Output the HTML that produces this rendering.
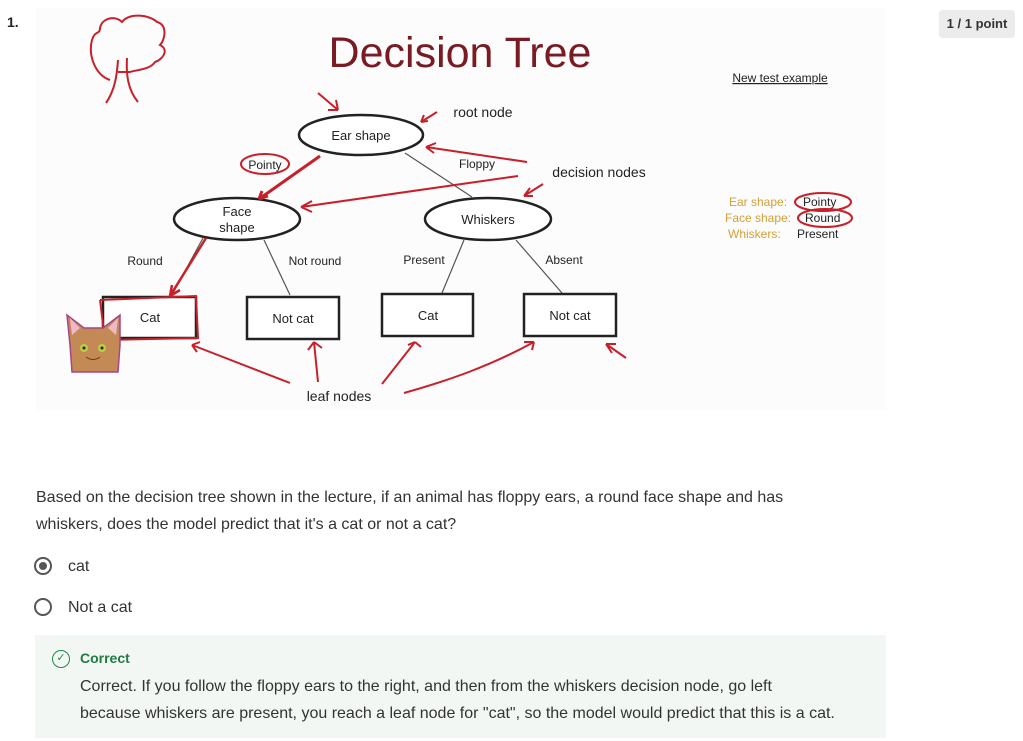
<!DOCTYPE html>
<html><head><meta charset="utf-8"><style>
body{margin:0;width:1023px;height:741px;background:#fff;font-family:"Liberation Sans",sans-serif;position:relative;overflow:hidden;color:#333}
.a{position:absolute}
</style></head><body>
<div class="a" style="left:7px;top:14px;font-weight:bold;font-size:14px;color:#222">1.</div>
<div class="a" style="left:939px;top:10px;width:76px;height:28px;background:#ececec;border-radius:4px;font-size:13px;font-weight:bold;line-height:28px;text-align:center;color:#333">1 / 1 point</div>
<svg class="a" style="left:0;top:0" width="1023" height="420" viewBox="0 0 1023 420" font-family="Liberation Sans, DejaVu Sans, sans-serif">
<rect x="36" y="8" width="850" height="402" fill="#fcfcfc"/>
<text x="460" y="67" font-size="43" fill="#7a1a22" text-anchor="middle">Decision Tree</text>
<g fill="none" stroke="#c8202a" stroke-width="2">
<path d="M110 80 C95 75 88 55 92 40 C95 30 100 35 100 28 C102 18 115 15 122 22 C130 12 150 15 157 22 C168 25 165 40 160 45 C170 50 162 60 155 62 C150 70 135 70 130 72 L118 72"/>
<path d="M118 60 C117 75 115 90 106 103"/><path d="M127 58 C126 75 128 90 138 102"/>
</g>
<g stroke="#555" stroke-width="1.2" fill="none">
<line x1="405" y1="153" x2="472" y2="197"/>
<line x1="203" y1="238" x2="172" y2="295"/>
<line x1="264" y1="240" x2="290" y2="295"/>
<line x1="464" y1="240" x2="442" y2="293"/>
<line x1="516" y1="240" x2="562" y2="293"/>
</g>
<g fill="#fff" stroke="#222" stroke-width="2.5">
<ellipse cx="361" cy="135" rx="62" ry="20"/>
<ellipse cx="237" cy="219" rx="63" ry="21"/>
<ellipse cx="488" cy="219" rx="63" ry="21"/>
<rect x="103" y="297" width="93" height="41"/>
<rect x="247" y="297" width="92" height="42"/>
<rect x="382" y="294" width="91" height="42"/>
<rect x="524" y="294" width="92" height="42"/>
</g>
<g font-size="13" fill="#222" text-anchor="middle">
<text x="361" y="140">Ear shape</text>
<text x="237" y="216">Face</text><text x="237" y="232">shape</text>
<text x="488" y="224">Whiskers</text>
<text x="150" y="322">Cat</text>
<text x="293" y="323">Not cat</text>
<text x="428" y="320">Cat</text>
<text x="570" y="320">Not cat</text>
<text x="145" y="265" font-size="12">Round</text>
<text x="315" y="265" font-size="12">Not round</text>
<text x="424" y="264" font-size="12">Present</text>
<text x="564" y="264" font-size="12">Absent</text>
<text x="265" y="169" font-size="12">Pointy</text>
<text x="477" y="168" font-size="12">Floppy</text>
<text x="483" y="117" font-size="14">root node</text>
<text x="599" y="177" font-size="14">decision nodes</text>
<text x="339" y="401" font-size="14">leaf nodes</text>
</g>
<g fill="none" stroke="#c8202a" stroke-width="2">
<ellipse cx="265" cy="164" rx="24" ry="10"/>
<path d="M318 93 L338 110 M338 110 L328 110 M338 110 L336 100"/>
<path d="M437 112 L421 122 M421 122 L428 121 M421 122 L424 115"/>
<path d="M527 162 L426 147 M426 147 L436 143 M426 147 L434 153"/>
<path d="M518 176 L301 207 M301 207 L312 201 M301 207 L312 212"/>
<path d="M543 184 L524 196 M524 196 L530 188 M524 196 L533 196"/>
<path d="M320 156 L259 199 M259 199 L268 196 M259 199 L262 191" stroke-width="3"/>
<path d="M206 238 L170 296 M170 296 L172 285 M170 296 L180 290" stroke-width="2.5"/>
<path d="M100 300 L196 296 L198 338 L105 340 L100 300"/>
<path d="M290 383 L192 345 M192 345 L200 342 M192 345 L197 352"/>
<path d="M318 382 L314 342 M314 342 L308 350 M314 342 L322 348"/>
<path d="M382 384 L415 342 M415 342 L408 345 M415 342 L421 347"/>
<path d="M404 393 C450 380 490 366 534 342 M534 342 L524 342 M534 342 L532 350"/>
<path d="M626 358 L606 344 M606 344 L612 353 M606 344 L616 344"/>
</g>
<g>
<path d="M70 345 L67 315 L84 328 L103 328 L120 315 L120 345 L118 372 L72 372 Z" fill="#c48a55" stroke="#a8448a" stroke-width="1.5"/>
<path d="M70 318 L80 328 L72 335 Z M118 318 L108 328 L116 335 Z" fill="#f0b8c8"/>
<circle cx="84" cy="348" r="4" fill="#b8d040"/><circle cx="102" cy="348" r="4" fill="#b8d040"/>
<circle cx="84" cy="348" r="1.5" fill="#222"/><circle cx="102" cy="348" r="1.5" fill="#222"/>
<path d="M86 357 Q93 362 100 357" stroke="#6a3a2a" fill="none"/>
</g>
<text x="780" y="82" font-size="12" fill="#222" text-anchor="middle" text-decoration="underline">New test example</text>
<g font-size="12">
<text x="729" y="206" fill="#d4a035">Ear shape: <tspan x="803" fill="#222">Pointy</tspan></text>
<text x="725" y="222" fill="#d4a035">Face shape: <tspan x="805" fill="#222">Round</tspan></text>
<text x="728" y="238" fill="#d4a035">Whiskers: <tspan x="797" fill="#222">Present</tspan></text>
</g>
<g fill="none" stroke="#c8202a" stroke-width="2">
<ellipse cx="823" cy="202" rx="28" ry="9"/><ellipse cx="825" cy="218" rx="27" ry="9"/>
</g>
</svg>
<div class="a" style="left:36px;top:484px;width:760px;font-size:16px;line-height:27px;color:#333">Based on the decision tree shown in the lecture, if an animal has floppy ears, a round face shape and has whiskers, does the model predict that it's a cat or not a cat?</div>
<div class="a" style="left:34px;top:557px;width:18px;height:18px;border:2px solid #555;border-radius:50%;box-sizing:border-box"><div style="margin:3px;width:8px;height:8px;border-radius:50%;background:#555"></div></div>
<div class="a" style="left:68px;top:558px;font-size:16px">cat</div>
<div class="a" style="left:34px;top:598px;width:18px;height:18px;border:2px solid #555;border-radius:50%;box-sizing:border-box"></div>
<div class="a" style="left:68px;top:599px;font-size:16px">Not a cat</div>
<div class="a" style="left:35px;top:635px;width:851px;height:103px;background:#f3f7f4"></div>
<div class="a" style="left:52px;top:650px;width:18px;height:18px;border:1.5px solid #1f8a4c;border-radius:50%;box-sizing:border-box;color:#1f8a4c;font-size:11px;line-height:15px;text-align:center">✓</div>
<div class="a" style="left:80px;top:650px;font-size:14px;font-weight:bold;color:#1f7a44">Correct</div>
<div class="a" style="left:80px;top:673px;width:755px;font-size:16px;line-height:27px;color:#333">Correct. If you follow the floppy ears to the right, and then from the whiskers decision node, go left because whiskers are present, you reach a leaf node for "cat", so the model would predict that this is a cat.</div>
</body></html>
